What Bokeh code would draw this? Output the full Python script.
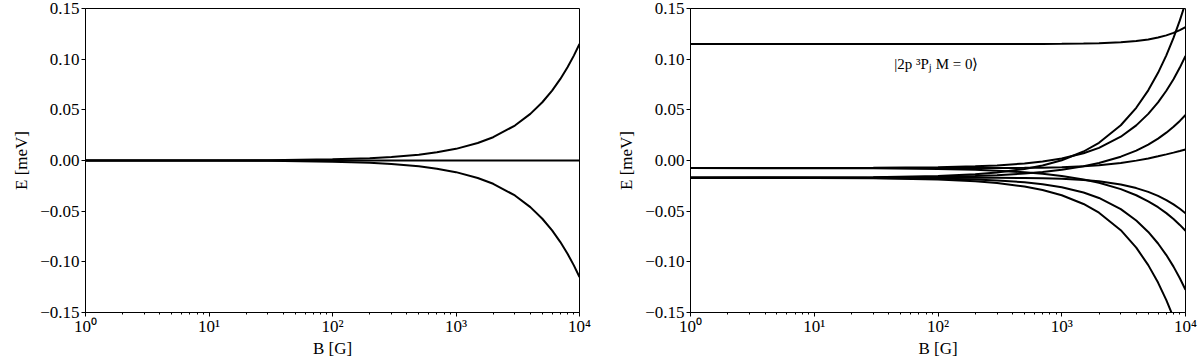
from bokeh.plotting import figure
from bokeh.layouts import row
from bokeh.models import FixedTicker, CustomJSTickFormatter, Label, Range1d
from bokeh.embed import file_html
from bokeh.resources import INLINE

# ---- data ----
B = [1, 10, 30, 100, 200, 300, 500, 700, 1000, 1500, 2000, 3000, 4000,
     5000, 6000, 7000, 8000, 9000, 10000]

# left panel
left_up = [0.00001, 0.00012, 0.00035, 0.00115, 0.0023, 0.00345, 0.00575, 0.00805,
           0.0115, 0.01725, 0.023, 0.0345, 0.046, 0.0575, 0.069, 0.0805, 0.092,
           0.1035, 0.115]
left_mid = [0.0, 0.0, 0.0, 0.0, 0.0, 0.0, 0.0, 0.0, 0.0, 0.0, 0.0, 0.0, 0.0,
            0.0, 0.0, 0.0, 0.0, 0.0, 0.0]
left_down = [-0.00001, -0.00012, -0.00035, -0.00115, -0.0023, -0.00345, -0.00575,
             -0.00805, -0.0115, -0.01725, -0.023, -0.0345, -0.046, -0.0575, -0.069,
             -0.0805, -0.092, -0.1035, -0.115]

# right panel
r_m0_top = [0.115, 0.115, 0.115, 0.115, 0.11501, 0.11502, 0.11505, 0.11509, 0.11518,
            0.1154, 0.11572, 0.11661, 0.11784, 0.11941, 0.1213, 0.12349, 0.12597,
            0.12872, 0.13172]
r_p2 = [-0.01698, -0.01683, -0.01648, -0.01528, -0.01355, -0.01183, -0.00838, -0.00493,
        0.00025, 0.00888, 0.0175, 0.03475, 0.052, 0.06925, 0.0865, 0.10375, 0.121,
        0.13825, 0.1555]
r_p1_hi = [-0.00749, -0.00741, -0.00724, -0.00663, -0.00574, -0.00483, -0.00297, -0.00105,
           0.00193, 0.0071, 0.01246, 0.02347, 0.03469, 0.04602, 0.05739, 0.0688, 0.08024,
           0.09168, 0.10314]
r_p1_lo = [-0.01699, -0.01691, -0.01674, -0.01615, -0.01531, -0.01449, -0.0129, -0.01137,
           -0.00918, -0.00573, -0.00246, 0.00378, 0.00981, 0.01574, 0.02161, 0.02745,
           0.03327, 0.03907, 0.04486]
r_m0_hi = [-0.0075, -0.0075, -0.0075, -0.00749, -0.00746, -0.00741, -0.00726, -0.00705,
           -0.00662, -0.00571, -0.00466, -0.0024, -0.00012, 0.00207, 0.00412, 0.00603,
           0.00779, 0.0094, 0.01087]
r_m0_lo = [-0.017, -0.017, -0.017, -0.01701, -0.01705, -0.0171, -0.01728, -0.01754,
           -0.01806, -0.01919, -0.02055, -0.02371, -0.02723, -0.03098, -0.03493, -0.03903,
           -0.04327, -0.04762, -0.05209]
r_m1_hi = [-0.00751, -0.00759, -0.00776, -0.00835, -0.00919, -0.01001, -0.0116, -0.01313,
           -0.01532, -0.01877, -0.02204, -0.02828, -0.03431, -0.04024, -0.04611, -0.05195,
           -0.05777, -0.06357, -0.06936]
r_m1_lo = [-0.01701, -0.01709, -0.01726, -0.01787, -0.01876, -0.01967, -0.02153, -0.02345,
           -0.02643, -0.0316, -0.03696, -0.04797, -0.05919, -0.07052, -0.08189, -0.0933,
           -0.10474, -0.11618, -0.12764]
r_m2 = [-0.01702, -0.01717, -0.01752, -0.01873, -0.02045, -0.02218, -0.02563, -0.02908,
        -0.03425, -0.04288, -0.0515, -0.06875, -0.086, -0.10325, -0.1205, -0.13775,
        -0.155, -0.17225, -0.1895]

x_major = [1, 10, 100, 1000, 10000]
y_major = [-0.15, -0.10, -0.05, 0.0, 0.05, 0.10, 0.15]
x_label = "B [G]"
y_label = "E [meV]"
state_label = "|2p \u00b3P\u2c7c M = 0\u27e9"

FONT = "'Liberation Serif', serif"
H = 361


def make_fig(width, bl, br):
    p = figure(width=width, height=H, x_axis_type="log",
               x_range=Range1d(1, 1e4), y_range=Range1d(-0.15, 0.15),
               output_backend="svg", toolbar_location=None,
               min_border_left=bl, min_border_right=br,
               min_border_top=8, min_border_bottom=49)
    p.grid.visible = False
    p.outline_line_color = "black"
    p.outline_line_width = 1
    p.background_fill_color = "white"
    p.border_fill_color = "white"
    minors = [m * d for d in x_major[:-1] for m in range(2, 10)]
    p.xaxis.ticker = FixedTicker(ticks=x_major, minor_ticks=minors)
    p.xaxis.formatter = CustomJSTickFormatter(code="""
        const s = ['\u2070','\u00b9','\u00b2','\u00b3','\u2074','\u2075'];
        const e = Math.round(Math.log10(tick));
        return '10' + s[e];
    """)
    p.yaxis.ticker = FixedTicker(ticks=y_major)
    p.yaxis.formatter = CustomJSTickFormatter(code="""
        return (tick < -1e-9 ? '\u2212' : '') + Math.abs(tick).toFixed(2);
    """)
    for ax in (p.xaxis[0], p.yaxis[0]):
        ax.axis_line_color = "black"
        ax.major_tick_line_color = "black"
        ax.minor_tick_line_color = "black"
        ax.major_tick_in = 0
        ax.major_tick_out = 4
        ax.minor_tick_in = 0
        ax.minor_tick_out = 2
        ax.major_label_text_font = FONT
        ax.major_label_text_font_size = "17px"
        ax.major_label_text_color = "black"
        ax.axis_label_text_font = FONT
        ax.axis_label_text_font_size = "17px"
        ax.axis_label_text_font_style = "normal"
        ax.axis_label_text_color = "black"
    p.yaxis.minor_tick_out = 0
    p.xaxis.major_label_standoff = 0
    p.yaxis.major_label_standoff = 2
    p.xaxis.axis_label_standoff = 0
    p.yaxis.axis_label_standoff = 6
    p.xaxis.axis_label = x_label
    p.yaxis.axis_label = y_label
    return p


left = make_fig(609, 85, 30)
for ys in (left_up, left_mid, left_down):
    left.line(B, ys, line_color="black", line_width=2)

right = make_fig(591, 81, 15)
for ys in (r_m0_top, r_p2, r_p1_hi, r_p1_lo, r_m0_hi, r_m0_lo, r_m1_hi, r_m1_lo, r_m2):
    right.line(B, ys, line_color="black", line_width=2)

label_B, label_E = 97, 0.0948
right.add_layout(Label(x=label_B, y=label_E, text=state_label, text_align="center",
                       text_baseline="middle", text_font=FONT, text_font_size="15px",
                       text_color="black"))

layout = row(left, right)
open("out.html", "w").write(file_html(layout, INLINE))
